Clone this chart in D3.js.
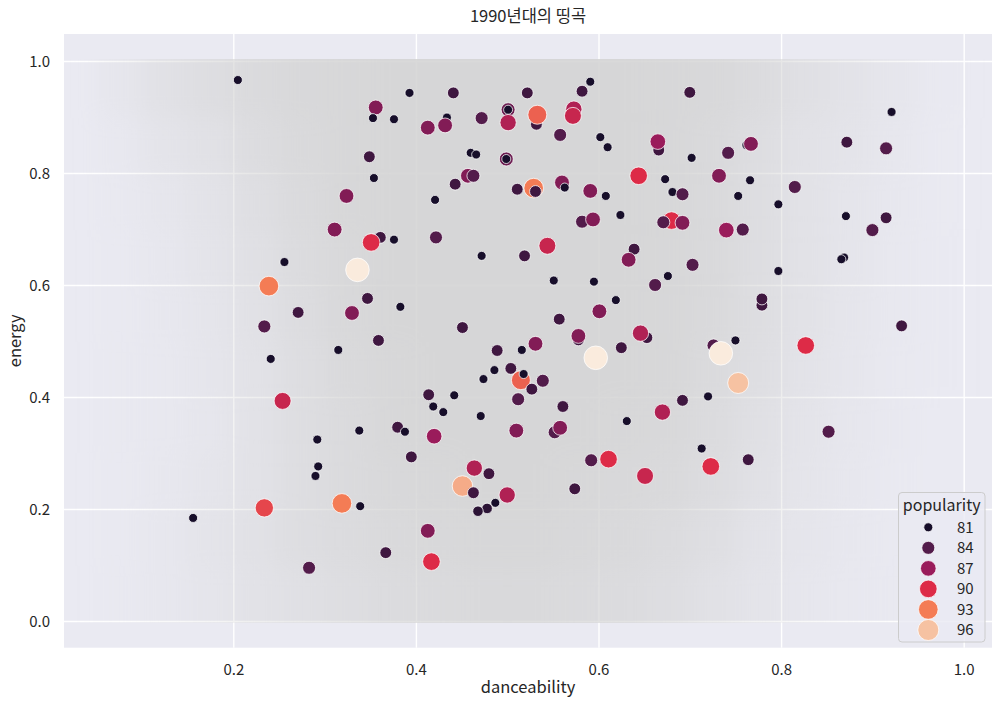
<!DOCTYPE html>
<html><head><meta charset="utf-8">
<script src="https://cdn.jsdelivr.net/npm/d3@7"></script>
<style>
body{margin:0;background:#fff}
svg{display:block}
text{font-family:"Noto Sans CJK KR","Noto Sans",sans-serif;fill:#262626}
</style>
</head><body>
<svg id="chart" width="1003" height="705"></svg>
<script>
// ---------- data ----------
const danceability = [0.205,0.591,0.582,0.393,0.441,0.522,0.700,0.356,0.353,0.376,
0.434,0.413,0.432,0.472,0.501,0.501,0.501,0.532,0.533,0.573,
0.572,0.558,0.602,0.610,0.666,0.665,0.742,0.762,0.767,0.702,
0.921,0.872,0.915,0.349,0.460,0.466,0.499,0.499,0.354,0.457,
0.463,0.443,0.529,0.531,0.511,0.560,0.563,0.591,0.608,0.644,
0.673,0.681,0.692,0.732,0.766,0.753,0.797,0.815,0.871,0.915,
0.900,0.740,0.758,0.680,0.671,0.692,0.624,0.582,0.594,0.324,
0.421,0.311,0.361,0.351,0.376,0.422,0.472,0.519,0.544,0.639,
0.633,0.551,0.595,0.619,0.662,0.676,0.336,0.347,0.383,0.330,
0.359,0.315,0.451,0.557,0.601,0.578,0.578,0.653,0.646,0.625,
0.531,0.489,0.516,0.597,0.486,0.504,0.474,0.515,0.527,0.518,
0.539,0.512,0.414,0.442,0.419,0.430,0.471,0.561,0.631,0.510,
0.552,0.558,0.338,0.380,0.388,0.420,0.395,0.611,0.592,0.670,
0.464,0.480,0.451,0.463,0.500,0.487,0.478,0.468,0.319,0.339,
0.413,0.367,0.417,0.574,0.651,0.723,0.764,0.713,0.852,0.692,
0.720,0.753,0.726,0.734,0.750,0.827,0.932,0.779,0.779,0.797,
0.869,0.866,0.703,0.239,0.256,0.271,0.234,0.241,0.254,0.292,
0.293,0.290,0.234,0.156,0.283];
const energy = [0.966,0.963,0.946,0.943,0.943,0.943,0.944,0.917,0.898,0.896,
0.899,0.881,0.885,0.898,0.913,0.913,0.890,0.887,0.904,0.914,
0.902,0.868,0.864,0.846,0.841,0.856,0.836,0.850,0.852,0.827,
0.909,0.855,0.844,0.829,0.836,0.833,0.825,0.825,0.791,0.795,
0.795,0.780,0.773,0.767,0.771,0.783,0.774,0.768,0.759,0.795,
0.789,0.766,0.762,0.795,0.787,0.759,0.744,0.775,0.723,0.720,
0.698,0.698,0.699,0.715,0.712,0.711,0.725,0.713,0.717,0.759,
0.752,0.699,0.685,0.676,0.681,0.685,0.652,0.652,0.670,0.664,
0.645,0.608,0.606,0.573,0.600,0.616,0.627,0.576,0.561,0.550,
0.501,0.484,0.524,0.539,0.553,0.502,0.509,0.506,0.514,0.488,
0.495,0.483,0.484,0.470,0.448,0.451,0.432,0.430,0.414,0.441,
0.429,0.396,0.404,0.403,0.383,0.373,0.366,0.383,0.357,0.340,
0.337,0.345,0.340,0.346,0.338,0.330,0.293,0.289,0.287,0.373,
0.273,0.263,0.241,0.229,0.225,0.211,0.201,0.196,0.210,0.205,
0.161,0.122,0.106,0.236,0.259,0.276,0.288,0.308,0.338,0.394,
0.401,0.425,0.492,0.478,0.501,0.492,0.527,0.564,0.575,0.625,
0.649,0.646,0.636,0.598,0.641,0.551,0.526,0.468,0.393,0.324,
0.276,0.259,0.202,0.184,0.095];
const popularity = [81,81,83,81,83,83,83,86,81,81,
81,86,86,84,85,81,88,83,92,88,
89,84,81,81,83,87,84,81,86,81,
81,83,84,83,81,81,85,81,81,86,
84,83,93,83,83,86,81,86,81,90,
81,81,84,86,81,81,81,84,81,83,
84,87,84,90,84,86,81,84,86,86,
81,86,83,90,81,84,81,83,89,83,
86,81,81,81,84,81,98,83,81,86,
83,81,83,83,86,83,86,83,88,83,
86,83,81,98,81,83,81,92,83,81,
84,84,83,81,81,81,81,83,81,86,
84,86,81,83,81,87,83,90,84,88,
88,83,95,83,88,81,82,82,93,81,
86,83,90,83,89,90,83,81,84,83,
81,96,84,98,81,90,83,83,83,81,
81,81,84,93,81,83,84,81,89,81,
81,81,91,81,84];

const xTicks = [0.2,0.4,0.6,0.8,1.0];
const yTicks = [0.0,0.2,0.4,0.6,0.8,1.0];
const legendValues = [81,84,87,90,93,96];

// background cloud of all songs: density read per cell (columns of danceability, rows of energy)
const cloudX = [0.05,0.10,0.15,0.20,0.25,0.30,0.35,0.40,0.45,0.50,0.55,0.60,0.65,0.70,0.75,0.80,0.85,0.90,0.95];
const cloudY = [0.9,0.8,0.7,0.6,0.5,0.4,0.3,0.2,0.1,0.0];
const cloudDensity = [
[0.20,0.45,0.60,0.75,0.85,0.90,0.95,0.95,0.95,0.95,0.95,0.95,0.90,0.85,0.70,0.50,0.35,0.20,0.05],
[0.10,0.30,0.45,0.65,0.80,0.90,0.95,0.95,0.95,0.95,0.95,0.95,0.90,0.80,0.60,0.40,0.30,0.15,0.03],
[0.08,0.20,0.35,0.55,0.75,0.90,0.95,0.95,0.95,0.95,0.95,0.95,0.90,0.80,0.60,0.40,0.25,0.12,0.03],
[0.05,0.15,0.30,0.50,0.70,0.85,0.95,0.95,0.95,0.95,0.95,0.95,0.90,0.80,0.60,0.40,0.25,0.10,0.02],
[0.05,0.12,0.25,0.45,0.65,0.85,0.95,0.95,0.95,0.95,0.95,0.95,0.90,0.80,0.60,0.40,0.22,0.10,0.02],
[0.04,0.10,0.22,0.40,0.60,0.80,0.90,0.95,0.95,0.95,0.95,0.95,0.90,0.75,0.55,0.35,0.20,0.08,0.02],
[0.04,0.10,0.20,0.40,0.60,0.75,0.90,0.95,0.95,0.95,0.95,0.90,0.85,0.70,0.50,0.30,0.18,0.07,0.01],
[0.05,0.12,0.25,0.40,0.60,0.75,0.85,0.90,0.95,0.95,0.90,0.85,0.80,0.65,0.45,0.28,0.15,0.06,0.01],
[0.05,0.15,0.30,0.45,0.60,0.70,0.80,0.85,0.90,0.90,0.85,0.80,0.70,0.55,0.35,0.22,0.12,0.05,0.00],
[0.04,0.15,0.25,0.40,0.50,0.60,0.70,0.75,0.80,0.80,0.75,0.70,0.60,0.45,0.30,0.18,0.10,0.04,0.00]
];

// ---------- layout ----------
const svg = d3.select("#chart");
const L = 64, R = 992, T = 34, B = 647.7;
const x = d3.scaleLinear().domain([0.01457, 1.031]).range([L, R]);
const y = d3.scaleLinear().domain([-0.0477, 1.0482]).range([B, T]);

const color = d3.scaleLinear()
  .domain([80,81,84,87,90,93,96,98])
  .range(["#0c0720","#170e2a","#531c4b","#9a1c5b","#dd2b47","#f47c55","#f6c2a2","#faebdd"])
  .interpolate(d3.interpolateRgb).clamp(true);
// marker area (px^2) by popularity
const size = d3.scaleLinear()
  .domain([81,84,87,90,93,96,98])
  .range([94,188,266,335,412,471,590]);
const rad = p => Math.sqrt(size(p)) / 2 - 0.35;

const defs = svg.append("defs");
defs.append("clipPath").attr("id","cloudClip").append("rect")
  .attr("x", L).attr("y", y(1.0) - 2).attr("width", R - L).attr("height", y(0.0) - y(1.0) + 4);
defs.append("clipPath").attr("id","plotClip").append("rect")
  .attr("x", L).attr("y", T).attr("width", R - L).attr("height", B - T);
const f = defs.append("filter").attr("id","blur")
  .attr("x","-10%").attr("y","-10%").attr("width","120%").attr("height","120%");
f.append("feGaussianBlur").attr("stdDeviation","13 11");

// background
svg.append("rect").attr("x", L).attr("y", T).attr("width", R - L).attr("height", B - T).attr("fill", "#eaeaf2");

// grid + axes
const gx = svg.append("g").attr("transform", `translate(0,${B})`)
  .call(d3.axisBottom(x).tickValues(xTicks).tickSize(-(B - T)).tickPadding(14).tickFormat(d3.format(".1f")));
const gy = svg.append("g").attr("transform", `translate(${L},0)`)
  .call(d3.axisLeft(y).tickValues(yTicks).tickSize(-(R - L)).tickPadding(14).tickFormat(d3.format(".1f")));
[gx, gy].forEach(g => {
  g.select(".domain").remove();
  g.selectAll(".tick line").attr("stroke", "#ffffff").attr("stroke-width", 1.4);
  g.selectAll(".tick text").attr("fill", "#262626").style("font-size", "15px")
    .style("font-family", '"Noto Sans CJK KR","Noto Sans",sans-serif');
});
gx.selectAll(".tick text").attr("dy", null).attr("y", 27);
gy.selectAll(".tick text").attr("dy", "0.35em");

// cloud of all songs
const cells = [];
cloudDensity.forEach((row, i) => row.forEach((d, j) => cells.push({i, j, d})));
const cloud = svg.append("g").attr("clip-path", "url(#cloudClip)")
  .append("g").attr("filter", "url(#blur)");
cloud.selectAll("rect").data(cells).join("rect")
  .attr("x", c => x(cloudX[c.j]))
  .attr("width", c => x(cloudX[c.j] + 0.05) - x(cloudX[c.j]) + 0.5)
  .attr("y", c => y(cloudY[c.i] + 0.1 + (c.i === 0 ? 0.08 : 0)))
  .attr("height", c => y(cloudY[c.i] - (c.i === cloudY.length - 1 ? 0.08 : 0)) - y(cloudY[c.i] + 0.1 + (c.i === 0 ? 0.08 : 0)) + 0.5)
  .attr("fill", "#d3d3d3")
  .attr("fill-opacity", c => c.d * 0.92);

// hits of the 1990s
svg.append("g").attr("clip-path", "url(#plotClip)")
  .selectAll("circle").data(d3.range(danceability.length)).join("circle")
  .attr("cx", i => x(danceability[i]))
  .attr("cy", i => y(energy[i]))
  .attr("r", i => rad(popularity[i]))
  .attr("fill", i => color(popularity[i]))
  .attr("stroke", "#ffffff").attr("stroke-width", 0.75);

// labels
svg.append("text").attr("x", (L + R) / 2).attr("y", 22).attr("text-anchor", "middle")
  .style("font-size", "16.5px").text("1990년대의 띵곡");
svg.append("text").attr("x", (L + R) / 2).attr("y", 693).attr("text-anchor", "middle")
  .style("font-size", "16.5px").text("danceability");
svg.append("text").attr("transform", `translate(21,${(T + B) / 2}) rotate(-90)`).attr("text-anchor", "middle")
  .style("font-size", "16.5px").text("energy");

// legend
const lg = svg.append("g");
lg.append("rect").attr("x", 898.5).attr("y", 492.5).attr("width", 86.5).attr("height", 149.5).attr("rx", 3.5)
  .attr("fill", "#eaeaf2").attr("fill-opacity", 0.8).attr("stroke", "#cccccc").attr("stroke-width", 1);
lg.append("text").attr("x", 941.7).attr("y", 510.5).attr("text-anchor", "middle")
  .style("font-size", "16px").text("popularity");
const ly = d3.scaleLinear().domain([0, legendValues.length - 1]).range([527.3, 630]);
const items = lg.selectAll("g.item").data(legendValues).join("g").attr("class", "item")
  .attr("transform", (d, i) => `translate(0,${ly(i)})`);
items.append("circle").attr("cx", 928.3).attr("cy", 0).attr("r", d => rad(d))
  .attr("fill", d => color(d)).attr("stroke", "#ffffff").attr("stroke-width", 0.75);
items.append("text").attr("x", 957).attr("y", 0).attr("dy", "0.35em").style("font-size", "15px").text(d => d);
</script>
</body></html>
